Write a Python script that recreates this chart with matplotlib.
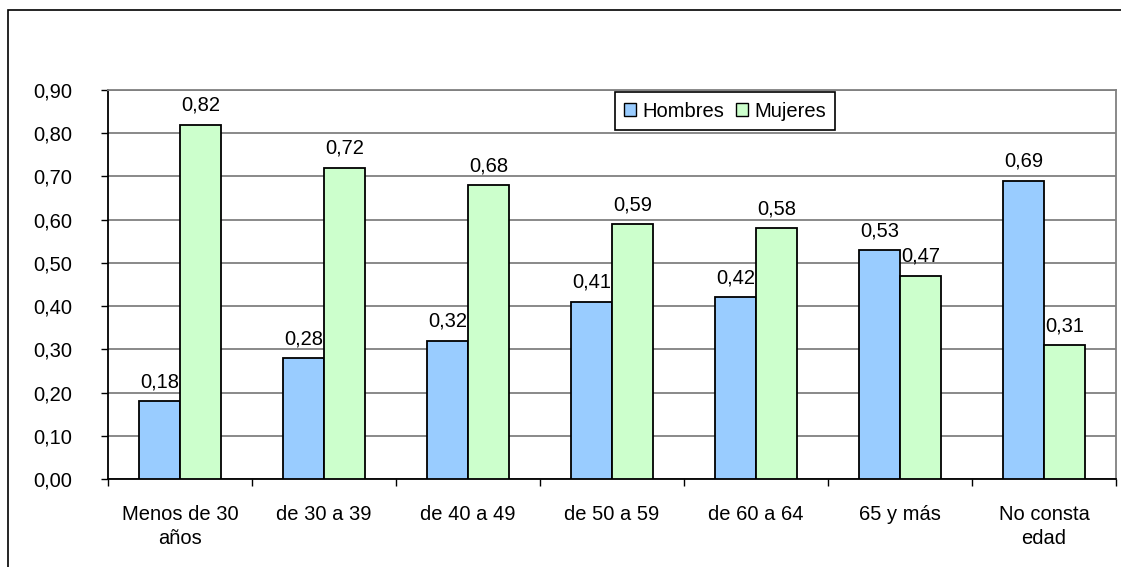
import matplotlib
matplotlib.use("Agg")
import matplotlib.pyplot as plt
from matplotlib.patches import Rectangle
from matplotlib.ticker import FuncFormatter, MultipleLocator
import numpy as np

plt.rcParams["font.family"] = ["Liberation Sans", "DejaVu Sans"]

categories = ["Menos de 30\naños", "de 30 a 39", "de 40 a 49", "de 50 a 59",
              "de 60 a 64", "65 y más", "No consta\nedad"]
hombres = [0.18, 0.28, 0.32, 0.41, 0.42, 0.53, 0.69]
mujeres = [0.82, 0.72, 0.68, 0.59, 0.58, 0.47, 0.31]
series_names = ["Hombres", "Mujeres"]
series_colors = ["#99CCFF", "#CCFFCC"]

W, H = 1121, 567
fig = plt.figure(figsize=(W / 100, H / 100), dpi=100)
ax = fig.add_axes([108 / W, 1 - 479 / H, 1008 / W, 389 / H])

# chart frame (top and left edges show in the exported area)
fig.add_artist(Rectangle((8 / W, -0.1), 1.2, 1.1 - 10 / H, transform=fig.transFigure,
                         fill=False, edgecolor="black", linewidth=1.2))

x = np.arange(len(categories))
width = 1 / 3.5
fs = 14.5

for i, (vals, name, col) in enumerate(zip([hombres, mujeres], series_names, series_colors)):
    pos = x + (i - 0.5) * width
    bars = ax.bar(pos, vals, width, color=col, edgecolor="black", linewidth=1.3,
                  label=name, zorder=3)
    for b, v in zip(bars, vals):
        ax.annotate(f"{v:.2f}".replace(".", ","), (b.get_x() + b.get_width() / 2, v),
                    xytext=(0, 10), textcoords="offset points", ha="center",
                    va="baseline", fontsize=fs)

ax.set_xlim(-0.5, len(categories) - 0.5)
ax.set_ylim(0, 0.9)
ax.yaxis.set_major_locator(MultipleLocator(0.1))
ax.yaxis.set_major_formatter(FuncFormatter(lambda v, p: f"{v:.2f}".replace(".", ",")))
ax.grid(axis="y", color="#808080", linewidth=1.3, zorder=0)

ax.set_xticks(x)
ax.set_xticklabels(categories, fontsize=fs, linespacing=1.3)
ax.set_xticks(np.arange(len(categories) + 1) - 0.5, minor=True)
ax.tick_params(axis="x", which="major", length=0, pad=19)
ax.tick_params(axis="x", which="minor", length=5, width=1, direction="out")
ax.tick_params(axis="y", length=5, width=1, direction="out", pad=21, labelsize=fs)

for side in ["left", "bottom"]:
    ax.spines[side].set_color("black")
    ax.spines[side].set_linewidth(1.3)
for side in ["top", "right"]:
    ax.spines[side].set_color("#808080")
    ax.spines[side].set_linewidth(1.3)

leg = ax.legend(loc="center", bbox_to_anchor=(0.612, 0.946), ncol=2, fontsize=fs,
                frameon=True, fancybox=False, edgecolor="black", framealpha=1,
                handlelength=0.6, handleheight=0.6, handletextpad=0.3,
                columnspacing=0.6, borderpad=0.45, borderaxespad=0)
leg.get_frame().set_linewidth(1.2)
for h in leg.legend_handles:
    h.set_linewidth(1.0)

fig.savefig("out.png", dpi=100)
